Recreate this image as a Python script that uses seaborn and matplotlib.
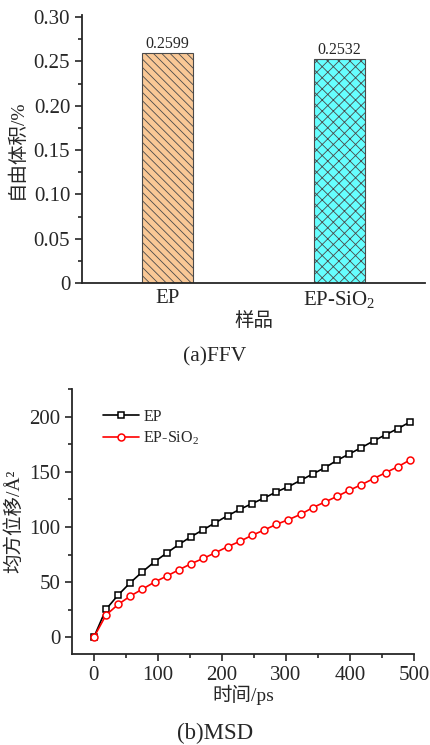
import matplotlib
matplotlib.use('Agg')
import matplotlib.pyplot as plt
from matplotlib.ticker import MultipleLocator
import pandas as pd
import seaborn as sns

# (a) FFV bars
samples = ['EP', 'EP-SiO$_2$']
ffv = [0.2599, 0.2532]
ffv_labels = ['0.2599', '0.2532']
bar_colors = ['#F9C896', '#66FFFF']
bar_hatches = ['\\\\\\\\', 'xxx']

# (b) MSD curves
time_ps = [0, 19, 38, 57, 76, 95, 114, 133, 152, 171, 190, 209, 228, 247,
           266, 285, 304, 323, 342, 361, 380, 399, 418, 437, 456, 475, 494]
msd_ep = [0, 25.4, 38.4, 49.6, 59.5, 68.6, 76.5, 84.3, 91.3, 97.6, 104.0,
          110.3, 116.0, 121.2, 126.3, 131.8, 136.6, 142.3, 148.1, 153.8,
          160.5, 166.2, 172.0, 178.0, 183.7, 189.2, 195.2]
msd_sio2 = [0, 20.2, 29.9, 37.5, 43.8, 50.2, 55.6, 61.3, 66.8, 71.6, 76.8,
            82.2, 87.0, 92.5, 97.3, 102.4, 106.7, 111.5, 117.6, 122.7, 127.8,
            133.3, 138.4, 143.9, 149.3, 154.7, 160.8]

sns.set_theme(style='ticks')
plt.rcParams['font.family'] = ['Liberation Serif', 'Noto Sans CJK SC']
plt.rcParams['mathtext.fontset'] = 'custom'
plt.rcParams['mathtext.rm'] = 'Liberation Serif'
plt.rcParams['mathtext.it'] = 'Liberation Serif:italic'
plt.rcParams['hatch.linewidth'] = 0.6
plt.rcParams['axes.linewidth'] = 1.3
plt.rcParams['xtick.direction'] = 'out'
plt.rcParams['ytick.direction'] = 'out'

fig = plt.figure(figsize=(4.3, 7.45), dpi=100)

# ---- top: free volume fraction
ax1 = fig.add_axes([0.1907, 0.6201, 0.7977, 0.3600])
df_bar = pd.DataFrame({'sample': samples, 'ffv': ffv})
sns.barplot(data=df_bar, x='sample', y='ffv', hue='sample', palette=bar_colors,
            width=0.3, legend=False, ax=ax1, saturation=1)
for p, h in zip(ax1.patches, bar_hatches):
    p.set_hatch(h)
    p.set_edgecolor('#4a4a4a')
    p.set_linewidth(0.8)
for i, (v, lab) in enumerate(zip(ffv, ffv_labels)):
    ax1.text(i, v + 0.001, lab, ha='center', va='bottom', fontsize=11.5)
ax1.set_xlim(-0.5, 1.5)
ax1.set_ylim(0, 0.3026)
ax1.set_yticks([0, 0.05, 0.10, 0.15, 0.20, 0.25, 0.30])
ax1.set_yticklabels(['0', '0.05', '0.10', '0.15', '0.20', '0.25', '0.30'])
ax1.yaxis.set_minor_locator(MultipleLocator(0.025))
ax1.tick_params(axis='y', which='major', length=5, width=1.2, labelsize=15)
ax1.tick_params(axis='y', which='minor', length=3, width=1.2)
ax1.tick_params(axis='x', length=0, labelsize=15, pad=4)
ax1.set_xlabel('样品', fontsize=14, labelpad=2)
ax1.set_ylabel('自由体积/%', fontsize=14, labelpad=6)
sns.despine(ax=ax1)
fig.text(0.5, 1 - 357 / 745, '(a)FFV', ha='center', va='center', fontsize=15.5)

# ---- bottom: mean square displacement
ax2 = fig.add_axes([0.1674, 0.1221, 0.7953, 0.3557])
df_msd = pd.DataFrame({
    'time': time_ps * 2,
    'msd': msd_ep + msd_sio2,
    'sample': ['EP'] * len(time_ps) + ['EP-SiO$_2$'] * len(time_ps),
})
sns.lineplot(data=df_msd[df_msd['sample'] == 'EP'], x='time', y='msd',
             color='black', marker='s', markersize=4.5, markerfacecolor='white',
             markeredgecolor='black', markeredgewidth=1.1, linewidth=1.2,
             label='EP', ax=ax2)
sns.lineplot(data=df_msd[df_msd['sample'] == 'EP-SiO$_2$'], x='time', y='msd',
             color='red', marker='o', markersize=5, markerfacecolor='white',
             markeredgecolor='red', markeredgewidth=1.1, linewidth=1.2,
             label='EP-SiO$_2$', ax=ax2)
ax2.set_xlim(-34, 500)
ax2.set_ylim(-15, 225)
ax2.set_xticks([0, 100, 200, 300, 400, 500])
ax2.set_yticks([0, 50, 100, 150, 200])
ax2.xaxis.set_minor_locator(MultipleLocator(50))
ax2.yaxis.set_minor_locator(MultipleLocator(25))
ax2.tick_params(which='major', length=5, width=1.2, labelsize=15)
ax2.tick_params(which='minor', length=3, width=1.2)
ax2.set_xlabel('时间/ps', fontsize=14, labelpad=0)
ax2.set_ylabel('均方位移/Å²', fontsize=14, labelpad=4)
ax2.legend(loc='upper left', bbox_to_anchor=(0.05, 0.98), frameon=False,
           fontsize=11.5, handlelength=2.2, handletextpad=0.3, labelspacing=0.3)
sns.despine(ax=ax2)
fig.text(0.5, 1 - 733 / 745, '(b)MSD', ha='center', va='center', fontsize=16.5)

fig.savefig('out.png', dpi=100)
